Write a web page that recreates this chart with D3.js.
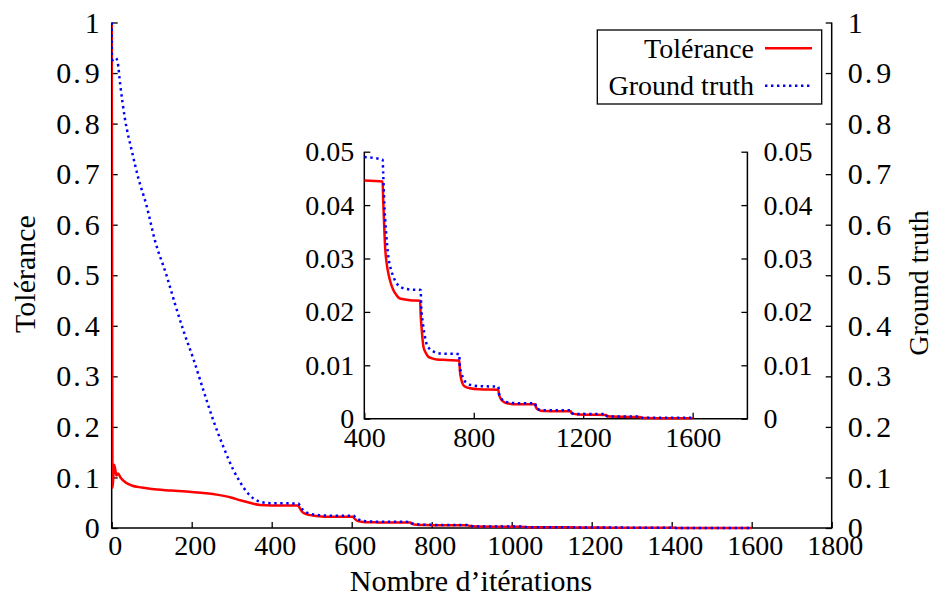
<!DOCTYPE html>
<html><head><meta charset="utf-8">
<script src="https://cdn.jsdelivr.net/npm/d3@7"></script>
</head><body style="margin:0;background:#fff">
<svg id="c" width="933" height="596"></svg>
<script>
// ---------- data ----------
const tolIter = [0,1,2,4,6,9,12,16,22,35,50,75,100,150,200,262,300,321,345,371,400,467,
  469,472,476,482,488,496,506,518,530,567,604,
  606,610,616,624,634,648,665,700,747,
  749,755,762,772,786,820,890,
  892,898,908,921,960,1025,
  1027,1035,1045,1060,1100,1155,
  1157,1165,1180,1220,1284,
  1286,1300,1350,1408,
  1410,1430,1500,1600];
const tolVal = [1.0,0.5,0.08,0.1,0.125,0.115,0.104,0.108,0.1,0.09,0.084,0.08,0.077,0.074,0.071,0.066,0.06,0.055,0.05,0.0455,0.0446,0.0444,
  0.041,0.037,0.0322,0.0290,0.0272,0.0255,0.0241,0.0231,0.0225,0.0222,0.0221,
  0.0195,0.0166,0.0135,0.0124,0.0116,0.0113,0.0111,0.011,0.0109,
  0.0092,0.0072,0.0063,0.0059,0.0057,0.0055,0.0054,
  0.0046,0.0038,0.0032,0.0029,0.0027,0.0027,
  0.0022,0.0017,0.0015,0.00145,0.0014,0.0014,
  0.0011,0.0009,0.0008,0.00075,0.0007,
  0.0005,0.0004,0.00035,0.0003,
  0.0002,0.00015,0.0001,0.0001];

const gtIter = [0,1,2,5,10,15,21,33,50,67,87,108,137,158,179,204,229,254,279,304,320,337,355,371,387,400,467,
  469,473,479,488,497,506,518,530,567,606,
  608,614,620,627,638,652,680,747,
  749,755,765,775,790,820,890,
  892,898,905,921,960,1025,
  1027,1035,1050,1080,1155,
  1157,1170,1200,1284,
  1286,1300,1408,
  1410,1450,1600];
const gtVal = [1.0,0.92,0.925,0.928,0.93,0.921,0.879,0.81,0.747,0.691,0.638,0.569,0.5,0.444,0.391,0.335,0.273,0.213,0.161,0.115,0.092,0.072,0.058,0.052,0.0495,0.049,0.0485,
  0.046,0.0405,0.0353,0.0303,0.028,0.0266,0.0254,0.0247,0.0242,0.0241,
  0.021,0.0179,0.0158,0.0141,0.0131,0.0126,0.0122,0.0121,
  0.0098,0.0085,0.0072,0.0067,0.0063,0.0061,0.006,
  0.0048,0.0040,0.0035,0.0031,0.0029,0.0029,
  0.0022,0.0018,0.0016,0.0016,0.0016,
  0.0011,0.0009,0.0009,0.0009,
  0.0005,0.0004,0.0004,
  0.0002,0.0002,0.0002];

const seriesNames = ["Tolérance","Ground truth"];
const seriesColors = ["#ff0000","#0000ff"];

const mainXTicks = [0,200,400,600,800,1000,1200,1400,1600,1800];
const mainYTicks = [0,0.1,0.2,0.3,0.4,0.5,0.6,0.7,0.8,0.9,1];
const mainYLabels = ["0","0.1","0.2","0.3","0.4","0.5","0.6","0.7","0.8","0.9","1"];
const insetXTicks = [400,800,1200,1600];
const insetYTicks = [0,0.01,0.02,0.03,0.04,0.05];
const insetYLabels = ["0","0.01","0.02","0.03","0.04","0.05"];

const xTitle = "Nombre d\u2019itérations";
const yTitle = "Tolérance";
const y2Title = "Ground truth";

// ---------- drawing ----------
const svg = d3.select("#c");
const FONT = '"Liberation Serif", "Times New Roman", serif';
const FS = 28;
const tol = tolIter.map((d,i)=>({x:d,y:tolVal[i]}));
const gt = gtIter.map((d,i)=>({x:d,y:gtVal[i]}));

function txt(sel, fs){ return sel.style("font-family",FONT).style("font-size",(fs||FS)+"px").style("fill","#000"); }

function styleAxis(g){
  g.attr("font-family",null).attr("font-size",null);
  g.select(".domain").remove();
  g.selectAll(".tick line").attr("stroke","#000").attr("stroke-width",1.3);
  g.selectAll(".tick text").call(txt);
}
// main y labels: slightly larger with wider spacing after the decimal point
function spreadDecimals(g){
  g.selectAll(".tick text").call(txt,30).each(function(){
    const t = d3.select(this); const s = t.text();
    if(s.includes(".")){
      const [a,b] = s.split(".");
      t.text(null);
      t.append("tspan").text(a);
      t.append("tspan").attr("dx",2).text(".");
      t.append("tspan").attr("dx",4).text(b);
    }
  });
}

function panel(opts){
  const {xd,yd,xr,yr,xt,yt,ylab,padL,padR,padB,clipId,main} = opts;
  const x = d3.scaleLinear(xd,xr), y = d3.scaleLinear(yd,yr);
  const g = svg.append("g");
  const gl = g.append("g").attr("transform",`translate(${xr[0]},0)`)
    .call(d3.axisLeft(y).tickValues(yt).tickFormat((d,i)=>ylab[i]).tickSize(-6).tickPadding(padL)).call(styleAxis);
  const gr = g.append("g").attr("transform",`translate(${xr[1]},0)`)
    .call(d3.axisRight(y).tickValues(yt).tickFormat((d,i)=>ylab[i]).tickSize(-6).tickPadding(padR)).call(styleAxis);
  const gb = g.append("g").attr("transform",`translate(0,${yr[0]})`)
    .call(d3.axisBottom(x).tickValues(xt).tickFormat(d3.format("d")).tickSize(-6).tickPadding(padB)).call(styleAxis);
  if(main){
    gl.call(spreadDecimals); gr.call(spreadDecimals);
    gb.selectAll(".tick text").attr("x",3);
  }
  // border: left, bottom, right
  g.append("path").attr("fill","none").attr("stroke","#000").attr("stroke-width",1.5)
    .attr("d",`M${xr[0]},${yr[1]}V${yr[0]}H${xr[1]}V${yr[1]}`);
  svg.append("clipPath").attr("id",clipId).append("rect")
    .attr("x",xr[0]).attr("y",yr[1]-3).attr("width",xr[1]-xr[0]).attr("height",yr[0]-yr[1]+6);
  const line = d3.line().x(d=>x(d.x)).y(d=>y(d.y)).curve(d3.curveMonotoneX);
  const cg = g.append("g").attr("clip-path",`url(#${clipId})`);
  const filt = opts.filter || (()=>true);
  cg.append("path").datum(tol.filter(filt)).attr("fill","none").attr("stroke",seriesColors[0])
    .attr("stroke-width",2.5).attr("d",line);
  cg.append("path").datum(gt.filter(filt)).attr("fill","none").attr("stroke",seriesColors[1])
    .attr("stroke-width",2.5).attr("stroke-dasharray","2.4,3.6").attr("d",line);
}

// main panel
panel({xd:[0,1800],yd:[0,1],xr:[111.7,831.7],yr:[528,22.5],xt:mainXTicks,yt:mainYTicks,ylab:mainYLabels,
  padL:12,padR:16,padB:7,clipId:"cm",main:true});
// inset panel
panel({xd:[400,1800],yd:[0,0.05],xr:[364.3,747.4],yr:[418.7,151.7],xt:insetXTicks,yt:insetYTicks,ylab:insetYLabels,
  padL:10,padR:16,padB:8,clipId:"ci",filter:d=>d.x>=400});

// titles
svg.append("text").attr("x",471).attr("y",591).attr("text-anchor","middle").call(txt,30).text(xTitle);
svg.append("text").attr("transform","translate(35,274) rotate(-90)").attr("text-anchor","middle").call(txt,30).text(yTitle);
svg.append("text").attr("transform","translate(928,283) rotate(-90)").attr("text-anchor","middle").call(txt).text(y2Title);

// legend
const lg = svg.append("g");
lg.append("rect").attr("x",597.3).attr("y",30).attr("width",224.4).attr("height",74)
  .attr("fill","#fff").attr("stroke","#000").attr("stroke-width",1.3);
const rowsY = [48.3,85.7];
seriesNames.forEach((n,i)=>{
  lg.append("text").attr("x",754).attr("y",rowsY[i]+9.5).attr("text-anchor","end").call(txt).text(n);
  const l = lg.append("line").attr("x1",765).attr("x2",812).attr("y1",rowsY[i]).attr("y2",rowsY[i])
    .attr("stroke",seriesColors[i]).attr("stroke-width",2.5);
  if(i===1) l.attr("stroke-dasharray","2.4,3.6");
});
</script>
</body></html>
